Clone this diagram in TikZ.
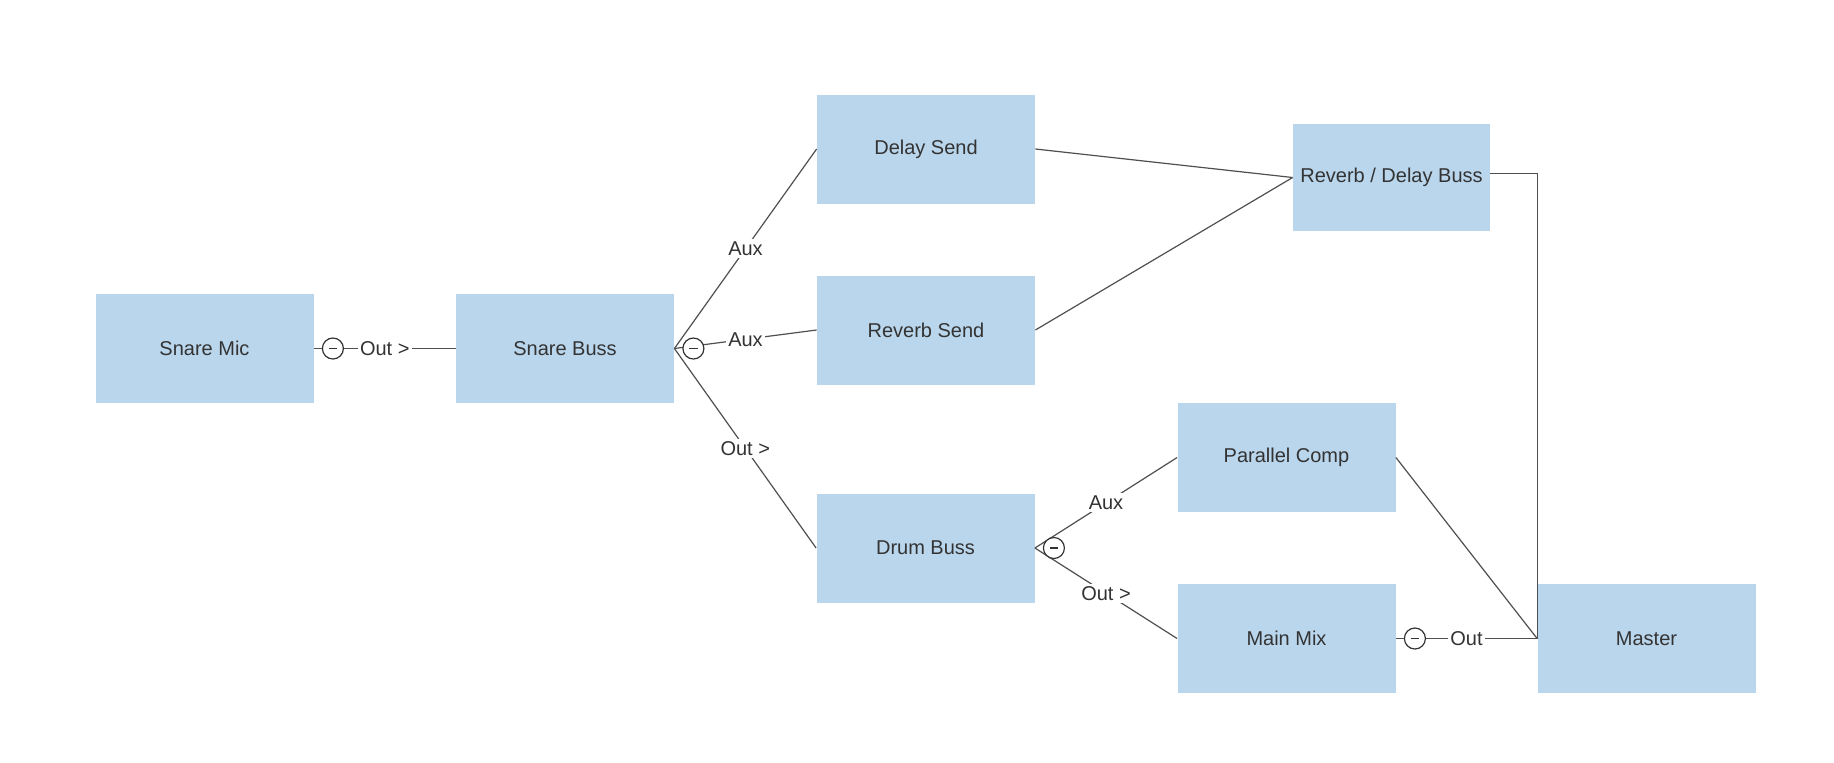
\documentclass[tikz,border=0pt]{standalone}
\usepackage{fontspec}
\setmainfont{Liberation Sans}
\definecolor{boxblue}{HTML}{BAD6EC}
\definecolor{inkgray}{HTML}{333333}
\definecolor{wiregray}{HTML}{4F4F4F}
\tikzset{
  chan/.style={fill=boxblue, text=inkgray, minimum width=109pt, minimum height=54.5pt,
    inner sep=0pt, font=\fontsize{10}{12}\selectfont},
  wire/.style={draw=wiregray, line width=0.6pt},
  lbl/.style={fill=white, text=inkgray, inner sep=1.2pt, font=\fontsize{10}{12}\selectfont},
  mute/.style={circle, draw=inkgray, fill=white, line width=0.6pt, minimum size=10.5pt,
    inner sep=0pt, path picture={\draw[inkgray, line width=0.6pt]
      ([xshift=-2.2pt]path picture bounding box.center) -- ([xshift=2.2pt]path picture bounding box.center);}}
}
\begin{document}
\begin{tikzpicture}[x=0.5pt,y=-0.5pt]
  \useasboundingbox (0,0) rectangle (1834,762);
  \node[chan] (smic) at (204.5,348.5) {Snare Mic};
  \node[chan] (sbus) at (565,348.5) {Snare Buss};
  \node[chan] (dsend) at (926,149) {Delay Send};
  \node[chan] (rsend) at (926,330) {Reverb Send};
  \node[chan] (dbus) at (925.5,548) {Drum Buss};
  \node[chan, minimum width=98.5pt, minimum height=53.5pt] (rdbus) at (1391.5,177.5) {Reverb / Delay Buss};
  \node[chan] (pcomp) at (1286.5,457.5) {Parallel Comp};
  \node[chan] (mmix) at (1286.5,638.5) {Main Mix};
  \node[chan] (master) at (1646.5,638.5) {Master};

  \draw[wire] (smic.east) -- node[lbl] {Out >} (sbus.west);
  \draw[wire] (sbus.east) -- node[lbl] {Aux} (dsend.west);
  \draw[wire] (sbus.east) -- node[lbl] {Aux} (rsend.west);
  \draw[wire] (sbus.east) -- node[lbl] {Out >} (dbus.west);
  \draw[wire] (dsend.east) -- (rdbus.west);
  \draw[wire] (rsend.east) -- (rdbus.west);
  \draw[wire] (dbus.east) -- node[lbl] {Aux} (pcomp.west);
  \draw[wire] (dbus.east) -- node[lbl] {Out >} (mmix.west);
  \draw[wire] ([yshift=2pt]rdbus.east) -| (master.west);
  \draw[wire] (pcomp.east) -- (master.west);
  \draw[wire] (mmix.east) -- node[lbl] {Out} (master.west);

  \node[mute] (m1) at ([xshift=9.5pt]smic.east) {};
  \node[mute] (m2) at ([xshift=9.5pt]sbus.east) {};
  \node[mute] (m3) at ([xshift=9.5pt]dbus.east) {};
  \node[mute] (m4) at ([xshift=9.5pt]mmix.east) {};
\end{tikzpicture}
\end{document}
